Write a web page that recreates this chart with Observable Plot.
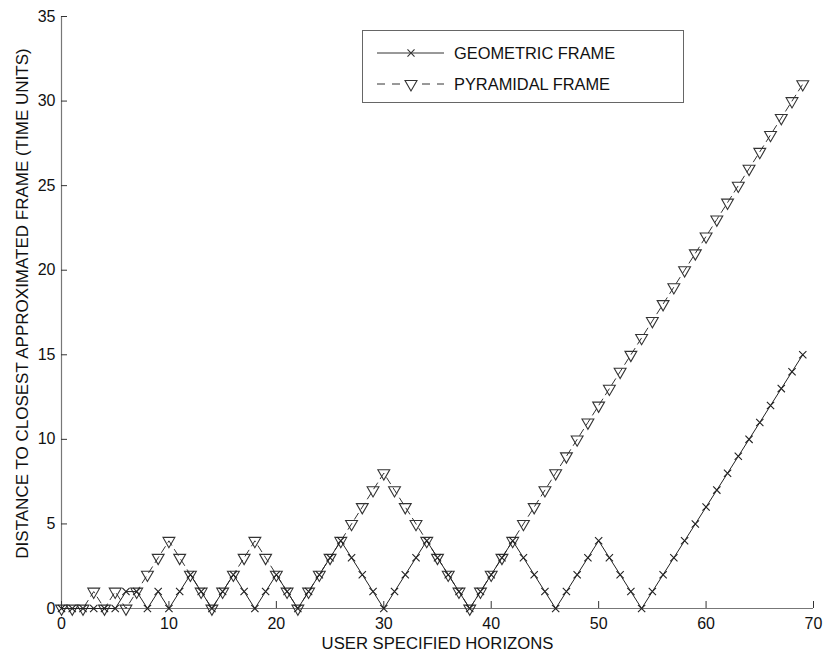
<!DOCTYPE html>
<html><head><meta charset="utf-8">
<script src="https://cdn.jsdelivr.net/npm/d3@7"></script>
<script src="https://cdn.jsdelivr.net/npm/@observablehq/plot@0.6"></script>
<style>
body{margin:0;background:#fff;font-family:"Liberation Sans",Arial,sans-serif;}
#wrap{position:relative;width:825px;height:652px;overflow:hidden;}
#legend{position:absolute;left:362px;top:30px;width:322px;height:73px;border:1px solid #666;background:#fff;box-sizing:border-box;}
#legend svg{position:absolute;left:0;top:0;}
g[aria-label="y-title"] text{letter-spacing:1.4px;}
</style>
</head><body>
<div id="wrap"><div id="legend"></div></div>
<script>
const horizons = [0,1,2,3,4,5,6,7,8,9,10,11,12,13,14,15,16,17,18,19,20,21,22,23,24,25,26,27,28,29,30,31,32,33,34,35,36,37,38,39,40,41,42,43,44,45,46,47,48,49,50,51,52,53,54,55,56,57,58,59,60,61,62,63,64,65,66,67,68,69];
const geometric = [0,0,0,0,0,0,1,1, 0,1,0,1,2,1,0, 1,2,1,0,1,2,1,0, 1,2,3,4,3,2,1,0, 1,2,3,4,3,2,1,0, 1,2,3,4,3,2,1,0, 1,2,3,4,3,2,1,0, 1,2,3,4,5,6,7,8,9,10,11,12,13,14,15];
const pyramidal = [0,0,0,1,0,1,0,1, 2,3,4,3,2,1,0, 1,2,3,4,3,2,1,0, 1,2,3,4,5,6,7,8, 7,6,5,4,3,2,1,0, 1,2,3,4,5,6,7,8,9,10,11,12,13,14,15,16,17,18,19,20,21,22,23,24,25,26,27,28,29,30,31];
const xTicks = [0,10,20,30,40,50,60,70];
const yTicks = [0,5,10,15,20,25,30,35];
const seriesNames = ["GEOMETRIC FRAME","PYRAMIDAL FRAME"];
const xTitle = "USER SPECIFIED HORIZONS";
const yTitle = "DISTANCE TO CLOSEST APPROXIMATED FRAME (TIME UNITS)";

const data = horizons.map((h,i)=>({h, geo: geometric[i], pyr: pyramidal[i]}));
const ink = "#222";
const axisInk = "#777";
const font = "'Liberation Sans', Arial, sans-serif";

const chart = Plot.plot({
  width: 825, height: 652,
  marginLeft: 61, marginRight: 12, marginTop: 16, marginBottom: 44,
  style: {fontFamily: font, fontSize: "16px", color: "#111", background: "#fff"},
  x: {domain: [0,70]},
  y: {domain: [0,35]},
  marks: [
    Plot.ruleY([0], {stroke: axisInk, strokeWidth: 1.2}),
    Plot.ruleX([0], {stroke: axisInk, strokeWidth: 1.2}),
    Plot.axisX(xTicks, {tickSize: -7, tickPadding: 16, stroke: "#333", fill: "#111", label: null}),
    Plot.axisX({ticks: [], label: xTitle, labelAnchor: "center", labelOffset: 40, labelArrow: "none", fontSize: 16.7, fill: "#111", tickSize: 0}),
    Plot.axisY(yTicks, {tickSize: -6, tickPadding: 12, stroke: "#333", fill: "#111", label: null}),
    Plot.text([yTitle], {text: d => d, frameAnchor: "left", textAnchor: "middle", rotate: -90, lineAnchor: "top", dx: -46, dy: -9, fontSize: 17, fill: "#111", ariaLabel: "y-title"}),
    Plot.line(data, {x: "h", y: "pyr", stroke: "#333", strokeWidth: 1, strokeDasharray: "7,5"}),
    Plot.dot(data, {x: "h", y: "pyr", symbol: "triangle", rotate: 180, r: 4.4, stroke: "#333", fill: "none", strokeWidth: 1.1}),
    Plot.line(data, {x: "h", y: "geo", stroke: ink, strokeWidth: 1}),
    Plot.dot(data, {x: "h", y: "geo", symbol: "times", r: 3.4, stroke: ink, strokeWidth: 1.1})
  ]
});
document.getElementById("wrap").prepend(chart);

// legend
const lg = d3.select("#legend").append("svg").attr("width", 322).attr("height", 73)
  .style("font-family", font).style("font-size", "16.4px");
const rows = [{name: seriesNames[0], dash: null, sym: d3.symbolTimes, size: 34, rot: 0},
              {name: seriesNames[1], dash: "8,7", sym: d3.symbolTriangle, size: 62, rot: 180}];
rows.forEach((r, i) => {
  const cy = 22 + i * 31;
  lg.append("line").attr("x1", 14).attr("x2", 81).attr("y1", cy).attr("y2", cy)
    .attr("stroke", "#333").attr("stroke-dasharray", r.dash);
  lg.append("path").attr("d", d3.symbol(r.sym, r.size)())
    .attr("transform", `translate(48,${cy}) rotate(${r.rot})`)
    .attr("fill", i ? "#fff" : "none").attr("stroke", "#333").attr("stroke-width", 1.1);
  lg.append("text").attr("x", 91).attr("y", cy).attr("dy", "0.35em").attr("fill", "#111").text(r.name);
});
</script>
</body></html>
